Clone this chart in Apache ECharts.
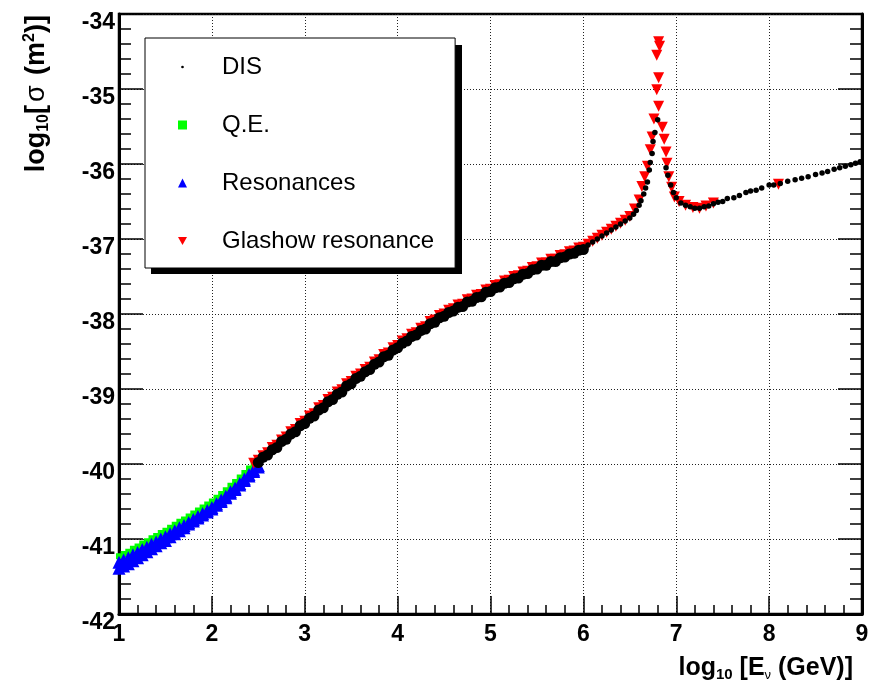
<!DOCTYPE html>
<html>
<head>
<meta charset="utf-8">
<script src="https://cdn.jsdelivr.net/npm/echarts@6/dist/echarts.min.js"></script>
<style>
  html, body { margin: 0; padding: 0; background: #fff; }
  #chart { width: 872px; height: 686px; }
</style>
</head>
<body>
<div id="chart"></div>
<script>
// Neutrino cross section vs energy, log10 scales.
// Each array holds [log10 E (GeV), log10 sigma (m^2)] pairs.

// Deep inelastic scattering: dense band up to 6 and sparse points beyond
const disBand = [
  [2.50,-39.98],[2.55,-39.91],[2.60,-39.88],[2.65,-39.81],[2.70,-39.78],[2.75,-39.70],
  [2.80,-39.67],[2.85,-39.60],[2.90,-39.57],[2.95,-39.49],[3.00,-39.46],[3.05,-39.39],
  [3.10,-39.36],[3.15,-39.28],[3.20,-39.25],[3.25,-39.17],[3.30,-39.14],[3.35,-39.07],
  [3.40,-39.04],[3.45,-38.96],[3.50,-38.93],[3.55,-38.86],[3.60,-38.83],[3.65,-38.77],
  [3.70,-38.74],[3.75,-38.67],[3.80,-38.64],[3.85,-38.57],[3.90,-38.55],[3.95,-38.48],
  [4.00,-38.45],[4.05,-38.39],[4.10,-38.36],[4.15,-38.30],[4.20,-38.28],[4.25,-38.22],
  [4.30,-38.20],[4.35,-38.13],[4.40,-38.11],[4.45,-38.05],[4.50,-38.03],[4.55,-37.98],
  [4.60,-37.96],[4.65,-37.91],[4.70,-37.90],[4.75,-37.84],[4.80,-37.83],[4.85,-37.78],
  [4.90,-37.77],[4.95,-37.71],[5.00,-37.70],[5.05,-37.65],[5.10,-37.64],[5.15,-37.59],
  [5.20,-37.58],[5.25,-37.53],[5.30,-37.52],[5.35,-37.47],[5.40,-37.46],[5.45,-37.41],
  [5.50,-37.40],[5.55,-37.35],[5.60,-37.35],[5.65,-37.30],[5.70,-37.30],[5.75,-37.25],
  [5.80,-37.24],[5.85,-37.20],[5.90,-37.19],[5.95,-37.15],[6.00,-37.14]
];
const disPeak = [
  [6.05,-37.08],[6.10,-37.04],[6.15,-37.00],[6.20,-36.96],[6.25,-36.92],[6.30,-36.88],
  [6.35,-36.84],[6.40,-36.80],[6.45,-36.76],[6.50,-36.72],[6.54,-36.67],[6.57,-36.62],
  [6.60,-36.55],[6.62,-36.49],[6.65,-36.40],[6.67,-36.32],[6.69,-36.24],[6.71,-36.08],
  [6.72,-35.98],[6.74,-35.86],[6.75,-35.70],[6.77,-35.58],[6.80,-35.41],[6.89,-36.05],
  [6.91,-36.15],[6.94,-36.28],[6.97,-36.38],[7.00,-36.45],[7.05,-36.52],[7.10,-36.55],
  [7.15,-36.57],[7.20,-36.59],[7.25,-36.59],[7.30,-36.57],[7.35,-36.56],[7.40,-36.53],
  [7.45,-36.51],[7.50,-36.50],[7.55,-36.46],[7.62,-36.45],[7.68,-36.42],[7.75,-36.38],
  [7.80,-36.36],[7.86,-36.35],[7.92,-36.32],[8.00,-36.28],[8.05,-36.28],[8.12,-36.26],
  [8.20,-36.23],[8.28,-36.21],[8.35,-36.19],[8.42,-36.17],[8.50,-36.14],[8.57,-36.12],
  [8.63,-36.10],[8.70,-36.07],[8.76,-36.05],[8.82,-36.03],[8.88,-36.01],[8.93,-35.99],
  [8.98,-35.97]
];

// Quasi-elastic scattering
const quasiElastic = [
  [1.00,-41.23],[1.05,-41.20],[1.10,-41.17],[1.15,-41.13],[1.20,-41.10],[1.25,-41.06],
  [1.30,-41.03],[1.35,-40.99],[1.40,-40.96],[1.45,-40.92],[1.50,-40.89],[1.55,-40.85],
  [1.60,-40.81],[1.65,-40.77],[1.70,-40.74],[1.75,-40.70],[1.80,-40.66],[1.85,-40.62],
  [1.90,-40.58],[1.95,-40.54],[2.00,-40.50],[2.05,-40.45],[2.10,-40.40],[2.15,-40.35],
  [2.20,-40.29],[2.25,-40.24],[2.30,-40.18],[2.35,-40.12],[2.40,-40.06],[2.45,-40.00],
  [2.50,-39.94]
];

// Resonance production (upper and lower edge of the band)
const resonanceUpper = [
  [1.00,-41.31],[1.05,-41.28],[1.10,-41.25],[1.15,-41.21],[1.20,-41.18],[1.25,-41.14],
  [1.30,-41.11],[1.35,-41.07],[1.40,-41.04],[1.45,-41.00],[1.50,-40.97],[1.55,-40.93],
  [1.60,-40.89],[1.65,-40.85],[1.70,-40.82],[1.75,-40.78],[1.80,-40.74],[1.85,-40.70],
  [1.90,-40.66],[1.95,-40.62],[2.00,-40.58],[2.05,-40.53],[2.10,-40.48],[2.15,-40.43],
  [2.20,-40.37],[2.25,-40.32],[2.30,-40.26],[2.35,-40.20],[2.40,-40.14],[2.45,-40.08],
  [2.50,-40.02]
];
const resonanceLower = [
  [1.00,-41.39],[1.05,-41.36],[1.10,-41.33],[1.15,-41.29],[1.20,-41.25],[1.25,-41.21],
  [1.30,-41.17],[1.35,-41.13],[1.40,-41.09],[1.45,-41.05],[1.50,-41.02],[1.55,-40.97],
  [1.60,-40.93],[1.65,-40.89],[1.70,-40.85],[1.75,-40.80],[1.80,-40.76],[1.85,-40.72],
  [1.90,-40.68],[1.95,-40.64],[2.00,-40.60],[2.05,-40.55],[2.10,-40.50],[2.15,-40.45],
  [2.20,-40.39],[2.25,-40.34],[2.30,-40.28],[2.35,-40.22],[2.40,-40.16],[2.45,-40.10],
  [2.50,-40.04]
];

// Glashow resonance
const glashow = [
  [2.45,-39.99],[2.50,-39.95],[2.55,-39.89],[2.60,-39.85],[2.65,-39.78],[2.70,-39.75],
  [2.75,-39.68],[2.80,-39.64],[2.85,-39.57],[2.90,-39.54],[2.95,-39.46],[3.00,-39.43],
  [3.05,-39.36],[3.10,-39.33],[3.15,-39.25],[3.20,-39.22],[3.25,-39.14],[3.30,-39.11],
  [3.35,-39.04],[3.40,-39.01],[3.45,-38.93],[3.50,-38.90],[3.55,-38.83],[3.60,-38.80],
  [3.65,-38.74],[3.70,-38.71],[3.75,-38.64],[3.80,-38.61],[3.85,-38.54],[3.90,-38.52],
  [3.95,-38.45],[4.00,-38.42],[4.05,-38.36],[4.10,-38.33],[4.15,-38.27],[4.20,-38.25],
  [4.25,-38.19],[4.30,-38.17],[4.35,-38.10],[4.40,-38.08],[4.45,-38.02],[4.50,-38.00],
  [4.55,-37.95],[4.60,-37.93],[4.65,-37.88],[4.70,-37.87],[4.75,-37.81],[4.80,-37.80],
  [4.85,-37.75],[4.90,-37.74],[4.95,-37.68],[5.00,-37.67],[5.05,-37.62],[5.10,-37.61],
  [5.15,-37.56],[5.20,-37.55],[5.25,-37.50],[5.30,-37.49],[5.35,-37.44],[5.40,-37.43],
  [5.45,-37.38],[5.50,-37.37],[5.55,-37.32],[5.60,-37.32],[5.65,-37.27],[5.70,-37.27],
  [5.75,-37.22],[5.80,-37.21],[5.85,-37.17],[5.90,-37.16],[5.95,-37.12],[6.00,-37.11],
  [6.05,-37.07],[6.10,-37.03],[6.15,-36.99],[6.20,-36.95],[6.25,-36.91],[6.30,-36.87],
  [6.35,-36.83],[6.40,-36.79],[6.45,-36.75],[6.50,-36.70],[6.55,-36.60],[6.60,-36.48],
  [6.63,-36.30],[6.66,-36.17],[6.69,-36.03],[6.72,-35.81],[6.74,-35.64],[6.76,-35.40],
  [6.81,-35.23],[6.79,-35.01],[6.81,-34.85],[6.79,-34.55],[6.82,-34.43],[6.81,-34.37],
  [6.85,-35.51],[6.87,-35.67],[6.89,-35.84],[6.90,-35.99],[6.92,-36.17],[6.95,-36.31],
  [6.98,-36.44],[7.03,-36.50],[7.10,-36.55],[7.18,-36.58],[7.25,-36.59],[7.32,-36.56],
  [7.40,-36.52],[8.10,-36.27]
];

const xRange = [1, 9];
const yRange = [-42, -34];

const FONT = '"Liberation Sans", Arial, Helvetica, sans-serif';

const axisLineStyle = { color: '#000', width: 3 };
const tickStyle = { color: '#000', width: 1.5 };
const gridStyle = { color: '#222', width: 1, type: [1, 2] };

function yAxisDef(position, withLabels) {
  return {
    type: 'value',
    position: position,
    min: yRange[0], max: yRange[1], interval: 1,
    axisLine: { show: true, onZero: false, lineStyle: axisLineStyle },
    axisTick: { show: true, inside: true, length: 24, lineStyle: tickStyle },
    minorTick: { show: true, splitNumber: 5, length: 12, lineStyle: tickStyle },
    axisLabel: withLabels ? {
      show: true, color: '#000', fontSize: 23, fontWeight: 'bold', fontFamily: FONT,
      margin: 4, verticalAlign: 'top', lineHeight: 17,
      showMinLabel: true, showMaxLabel: true
    } : { show: false },
    splitLine: { show: withLabels, lineStyle: gridStyle }
  };
}

const chart = echarts.init(document.getElementById('chart'), null, { renderer: 'canvas' });

chart.setOption({
  animation: false,
  backgroundColor: '#fff',
  grid: {
    left: 119, right: 10, top: 14, bottom: 72,
    show: true, borderColor: '#000', borderWidth: 2.5, backgroundColor: 'transparent'
  },
  xAxis: {
    type: 'value',
    min: xRange[0], max: xRange[1], interval: 1,
    axisLine: { show: true, onZero: false, lineStyle: axisLineStyle },
    axisTick: { show: true, inside: true, length: 18, lineStyle: tickStyle },
    minorTick: { show: true, splitNumber: 5, length: 9, lineStyle: tickStyle },
    axisLabel: {
      color: '#000', fontSize: 23, fontWeight: 'bold', fontFamily: FONT, margin: 9,
      showMinLabel: true, showMaxLabel: true
    },
    splitLine: { show: true, lineStyle: gridStyle }
  },
  yAxis: [yAxisDef('left', true), yAxisDef('right', false)],
  legend: {
    orient: 'vertical',
    left: 145, top: 38,
    padding: [17, 21, 15, 33],
    itemGap: 34,
    itemWidth: 9, itemHeight: 9,
    backgroundColor: '#fff',
    borderColor: '#000', borderWidth: 1,
    selectedMode: false,
    z: 10,
    textStyle: { fontSize: 24, fontFamily: FONT, color: '#000', lineHeight: 24, padding: [0, 0, 0, 30] },
    data: [
      { name: 'DIS', icon: 'path://M0 0M10 10M3.5 5a1.5 1.5 0 1 0 3 0a1.5 1.5 0 1 0 -3 0z' },
      { name: 'Q.E.', icon: 'rect' },
      { name: 'Resonances', icon: 'triangle' },
      { name: 'Glashow resonance', icon: 'path://M0 0L10 0L5 8.66Z' }
    ]
  },
  graphic: [
    {
      // drop shadow behind the legend box
      type: 'rect',
      z: 9,
      shape: { x: 151, y: 45, width: 311, height: 229 },
      style: { fill: '#000' }
    },
    {
      type: 'text',
      x: 853, y: 668,
      style: {
        text: '{m|log}{s|10}{m| [E}{n|\u03bd}{m| (GeV)]}',
        align: 'right', verticalAlign: 'middle', fill: '#000',
        rich: {
          m: { fontSize: 25, fontWeight: 'bold', fontFamily: FONT, lineHeight: 28, fill: '#000' },
          s: { fontSize: 15, fontWeight: 'bold', fontFamily: FONT, lineHeight: 8, verticalAlign: 'bottom', fill: '#000' },
          n: { fontSize: 13, fontFamily: FONT, lineHeight: 8, verticalAlign: 'bottom', fill: '#000' }
        }
      }
    },
    {
      type: 'text',
      x: 37, y: 15,
      rotation: Math.PI / 2,
      style: {
        text: '{m|log}{s|10}{m|[}{g|\u03c3}{m| (m}{p|2}{m|)]}',
        align: 'right', verticalAlign: 'middle', fill: '#000',
        rich: {
          m: { fontSize: 27, fontWeight: 'bold', fontFamily: FONT, lineHeight: 30, fill: '#000' },
          g: { fontSize: 27, fontFamily: FONT, lineHeight: 30, fill: '#000', padding: [0, 3, 0, 3] },
          s: { fontSize: 16, fontWeight: 'bold', fontFamily: FONT, lineHeight: 12, verticalAlign: 'bottom', fill: '#000' },
          p: { fontSize: 16, fontWeight: 'bold', fontFamily: FONT, lineHeight: 18, verticalAlign: 'top', fill: '#000' }
        }
      }
    }
  ],
  series: [
    {
      name: 'Q.E.', type: 'scatter', data: quasiElastic,
      symbol: 'rect', symbolSize: 6, itemStyle: { color: '#00ff00', opacity: 1 }, clip: false
    },
    {
      name: 'Resonances', type: 'scatter', data: resonanceLower.concat(resonanceUpper),
      symbol: 'triangle', symbolSize: 13, itemStyle: { color: '#0000ff', opacity: 1 }, clip: false
    },
    {
      name: 'Glashow resonance', type: 'scatter', data: glashow,
      symbol: 'triangle', symbolRotate: 180, symbolSize: 11, itemStyle: { color: '#ff0000', opacity: 1 }
    },
    {
      name: 'DIS', type: 'scatter', data: disBand,
      symbol: 'circle', symbolSize: 11, itemStyle: { color: '#000', opacity: 1 }
    },
    {
      name: 'DIS', type: 'scatter', data: disPeak,
      symbol: 'circle', symbolSize: 5.5, itemStyle: { color: '#000', opacity: 1 }
    }
  ]
});
</script>
</body>
</html>
